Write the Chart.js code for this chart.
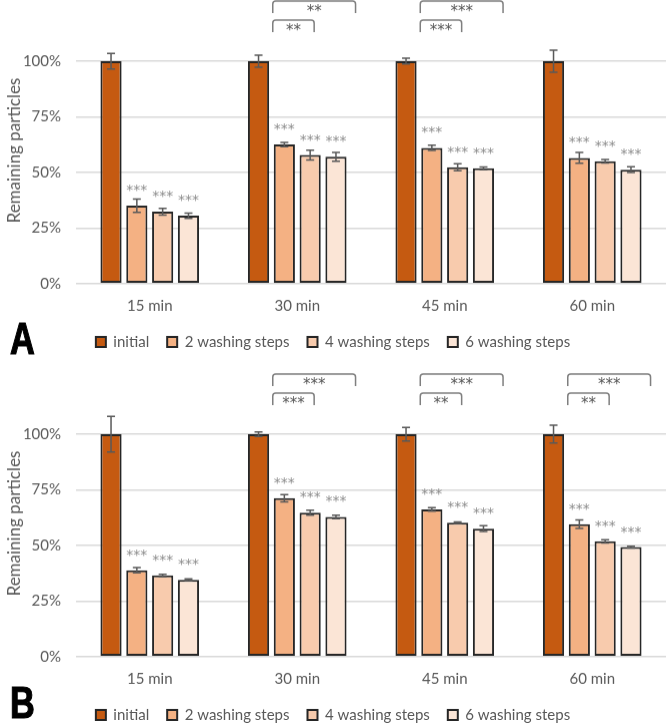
<!DOCTYPE html>
<html>
<head>
<meta charset="utf-8">
<script src="https://cdn.jsdelivr.net/npm/chart.js@4.4.1/dist/chart.umd.min.js"></script>
<style>
  html, body { margin: 0; padding: 0; background: #fff; }
  #wrap { position: relative; width: 666px; height: 723px; overflow: hidden; }
  .panel { position: absolute; left: 0; width: 666px; height: 358.5px; }
  .letter {
    position: absolute; left: 10px; font: bold 44px/44px "Liberation Sans", sans-serif;
    color: #000; -webkit-text-stroke: 1.2px #000;
    transform: scaleX(0.78); transform-origin: left top;
  }
</style>
</head>
<body>
<div id="wrap">
  <div class="panel" style="top:0px"><canvas id="chartA"></canvas></div>
  <div class="panel" style="top:373px"><canvas id="chartB"></canvas></div>
  <div class="letter" style="top:317px">A</div>
  <div class="letter" style="top:681px">B</div>
</div>
<script>
const categories = ["15 min", "30 min", "45 min", "60 min"];
const seriesNames = ["initial", "2 washing steps", "4 washing steps", "6 washing steps"];
const seriesColors = ["#C55A11", "#F4B183", "#F8CBAD", "#FBE5D6"];
const yTicks = [0, 25, 50, 75, 100];
const yTitle = "Remaining particles";

// panel A values (%)
const aInitial = [100, 100, 100, 100];
const aWash2 = [35, 62.5, 61, 56.5];
const aWash4 = [32.3, 57.8, 52.3, 55];
const aWash6 = [30.5, 57, 51.8, 51.2];
// panel A error bars (+/-)
const aErrInitial = [3.5, 2.7, 1.3, 5];
const aErrWash2 = [3, 1, 1.2, 2.4];
const aErrWash4 = [1.5, 2.2, 1.6, 0.8];
const aErrWash6 = [1.2, 2, 0.6, 1.3];
// stars above bars (initial has none)
const aStars = [["", "", "", ""], ["***", "***", "***", "***"], ["***", "***", "***", "***"], ["***", "***", "***", "***"]];
// brackets: category, span (2 = to 4 washing, 3 = to 6 washing), level (%), label
const aBrackets = [
  { cat: 1, to: 2, level: 118.5, label: "**" },
  { cat: 1, to: 3, level: 127, label: "**" },
  { cat: 2, to: 2, level: 118.5, label: "***" },
  { cat: 2, to: 3, level: 127, label: "***" }
];

// panel B values (%)
const bInitial = [100, 100, 100, 100];
const bWash2 = [38.8, 71.2, 66.2, 59.5];
const bWash4 = [36.5, 64.7, 60.2, 51.8];
const bWash6 = [34.5, 62.8, 57.5, 49.2];
const bErrInitial = [8, 1, 3, 4];
const bErrWash2 = [1.2, 1.6, 0.8, 1.9];
const bErrWash4 = [0.5, 1.1, 0.3, 0.7];
const bErrWash6 = [0.4, 0.8, 1.3, 0.4];
const bStars = [["", "", "", ""], ["***", "***", "***", "***"], ["***", "***", "***", "***"], ["***", "***", "***", "***"]];
const bBrackets = [
  { cat: 1, to: 2, level: 118.5, label: "***" },
  { cat: 1, to: 3, level: 127, label: "***" },
  { cat: 2, to: 2, level: 118.5, label: "**" },
  { cat: 2, to: 3, level: 127, label: "***" },
  { cat: 3, to: 2, level: 118.5, label: "**" },
  { cat: 3, to: 3, level: 127, label: "***" }
];

const FONT = "Lato";
const STAR_FONT = "DejaVu Sans";
const TEXT = "#595959";

// error bars, stars, significance brackets and the y title
const extras = {
  id: "extras",
  afterDatasetsDraw(chart, args, opts) {
    const ctx = chart.ctx;
    const y = chart.scales.y;
    ctx.save();
    // error bars
    ctx.strokeStyle = "#595959";
    ctx.lineWidth = 1.5;
    opts.errors.forEach((errs, d) => {
      const meta = chart.getDatasetMeta(d);
      meta.data.forEach((bar, i) => {
        const v = chart.data.datasets[d].data[i];
        const top = y.getPixelForValue(v + errs[i]);
        const bot = y.getPixelForValue(v - errs[i]);
        ctx.beginPath();
        ctx.moveTo(bar.x, top); ctx.lineTo(bar.x, bot);
        ctx.moveTo(bar.x - 4, top); ctx.lineTo(bar.x + 4, top);
        ctx.moveTo(bar.x - 4, bot); ctx.lineTo(bar.x + 4, bot);
        ctx.stroke();
      });
    });
    // stars over bars
    ctx.fillStyle = "#8c8c8c";
    ctx.font = "14px " + STAR_FONT;
    ctx.textAlign = "center";
    ctx.textBaseline = "alphabetic";
    opts.stars.forEach((row, d) => {
      const meta = chart.getDatasetMeta(d);
      meta.data.forEach((bar, i) => {
        if (row[i]) ctx.fillText(row[i], bar.x, bar.y - 11);
      });
    });
    // brackets
    ctx.font = "15px " + STAR_FONT;
    opts.brackets.forEach(b => {
      const b1 = chart.getDatasetMeta(1).data[b.cat];
      const bt = chart.getDatasetMeta(b.to).data[b.cat];
      const x0 = b1.x - b1.width / 2 - 1;
      const x1 = b.to === 2 ? bt.x + 4 : bt.x + bt.width / 2 + 9;
      const yt = y.getPixelForValue(b.level);
      const r = 3, leg = 12;
      ctx.strokeStyle = "#7f7f7f";
      ctx.lineWidth = 1.5;
      ctx.beginPath();
      ctx.moveTo(x0, yt + leg);
      ctx.lineTo(x0, yt + r);
      ctx.quadraticCurveTo(x0, yt, x0 + r, yt);
      ctx.lineTo(x1 - r, yt);
      ctx.quadraticCurveTo(x1, yt, x1, yt + r);
      ctx.lineTo(x1, yt + leg);
      ctx.stroke();
      ctx.fillStyle = "#595959";
      ctx.fillText(b.label, (x0 + x1) / 2, yt + 15);
    });
    ctx.restore();
  },
  afterDraw(chart) {
    const ctx = chart.ctx;
    ctx.save();
    ctx.translate(15, 150);
    ctx.rotate(-Math.PI / 2);
    ctx.fillStyle = TEXT;
    ctx.font = "17px " + FONT;
    ctx.textAlign = "center";
    ctx.textBaseline = "middle";
    ctx.fillText(yTitle, 0, 0);
    ctx.restore();
  }
};

function makeChart(id, series, errors, stars, brackets) {
  const datasets = series.map((vals, i) => ({
    label: seriesNames[i],
    data: vals,
    backgroundColor: seriesColors[i],
    borderColor: "#262626",
    borderWidth: 2,
    borderSkipped: false,
    categoryPercentage: 0.7,
    barPercentage: 0.82
  }));
  return new Chart(document.getElementById(id), {
    type: "bar",
    data: { labels: categories, datasets: datasets },
    plugins: [extras],
    options: {
      responsive: true,
      maintainAspectRatio: false,
      animation: false,
      layout: { padding: 0 },
      plugins: {
        tooltip: { enabled: false },
        legend: {
          position: "bottom",
          labels: {
            boxWidth: 10,
            boxHeight: 10,
            padding: 18,
            color: TEXT,
            font: { family: FONT, size: 15 }
          }
        },
        extras: { errors: errors, stars: stars, brackets: brackets }
      },
      scales: {
        x: {
          grid: { display: false, drawTicks: false },
          border: { display: false },
          ticks: { color: TEXT, padding: 13, font: { family: FONT, size: 15 } },
          afterFit: (s) => { s.height = 32.8; }
        },
        y: {
          min: 0,
          max: 127.5,
          afterBuildTicks: (s) => { s.ticks = yTicks.map(v => ({ value: v })); },
          grid: { color: "#d9d9d9", lineWidth: 1.5, drawTicks: false },
          border: { display: false },
          ticks: {
            color: TEXT, padding: 15, font: { family: FONT, size: 15 },
            callback: (v) => v + "%"
          },
          afterFit: (s) => { s.width = 76; s.paddingTop = 0; s.paddingBottom = 0; }
        }
      }
    }
  });
}

makeChart("chartA", [aInitial, aWash2, aWash4, aWash6],
  [aErrInitial, aErrWash2, aErrWash4, aErrWash6], aStars, aBrackets);
makeChart("chartB", [bInitial, bWash2, bWash4, bWash6],
  [bErrInitial, bErrWash2, bErrWash4, bErrWash6], bStars, bBrackets);
</script>
</body>
</html>
